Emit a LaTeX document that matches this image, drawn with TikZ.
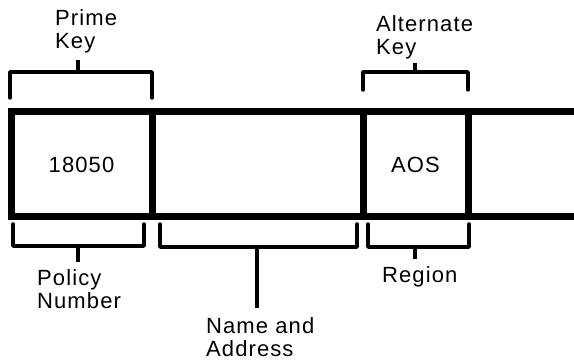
\documentclass[tikz,border=0pt]{standalone}
\usepackage{fontspec}
\setmainfont{Liberation Sans}[LetterSpace=5]
\usetikzlibrary{positioning, calc}

\begin{document}
\begin{tikzpicture}[x=1pt, y=-1pt,
    every node/.style={font=\fontsize{22}{23.5}\selectfont},
    fld/.style={draw, line width=7pt, inner sep=0pt, outer sep=0pt, minimum height=105pt},
    rec/.style={line width=7pt},
    brk/.style={line width=3.5pt, line cap=round, line join=round},
    tk/.style={line width=4pt},
    lbl/.style={align=left, inner sep=0pt, anchor=base west}
]
\useasboundingbox (0,0) rectangle (574,363);
% the record and its fields
\node[fld, minimum width=141pt] (policy) at (81.5,164.5)  {18050};
\node[fld, minimum width=211pt] (name)   at (257.5,164.5) {};
\node[fld, minimum width=105pt] (region) at (415.5,164.5) {AOS};
\draw[rec] (region.north east) -- ++(120,0);
\draw[rec] (region.south east) -- ++(120,0);
% keys above the record
\node[lbl] (prime) at (55,49)  {Prime\\Key};
\node[lbl] (alt)   at (376,55) {Alternate\\Key};
\draw[brk] (10,98) -- (10,72) -- (152,72) -- (152,98);
\draw[brk] (363,90) -- (363,72) -- (468,72) -- (468,90);
\coordinate (primetk) at (78,72);
\coordinate (alttk)   at (415,72);
\draw[tk] (primetk) -- ++(0,-12);
\draw[tk] (alttk) -- ++(0,-9);
% fields below the record
\node[lbl] (polnum) at (37,309)  {Policy\\Number};
\node[lbl] (nameaddr) at (206,357) {Name and\\Address};
\node[lbl] (reg)    at (382,283) {Region};
\draw[brk] (13,224) -- (13,246) -- (144,246) -- (144,224);
\draw[brk] (160,224) -- (160,247) -- (357,247) -- (357,224);
\draw[brk] (368,224) -- (368,247) -- (469,247) -- (469,224);
\coordinate (poltk)  at (78,246);
\coordinate (nametk) at (257,247);
\coordinate (regtk)  at (415,247);
\draw[tk] (poltk) -- ++(0,16);
\draw[tk] (nametk) -- ++(0,61);
\draw[tk] (regtk) -- ++(0,12);
\end{tikzpicture}
\end{document}
